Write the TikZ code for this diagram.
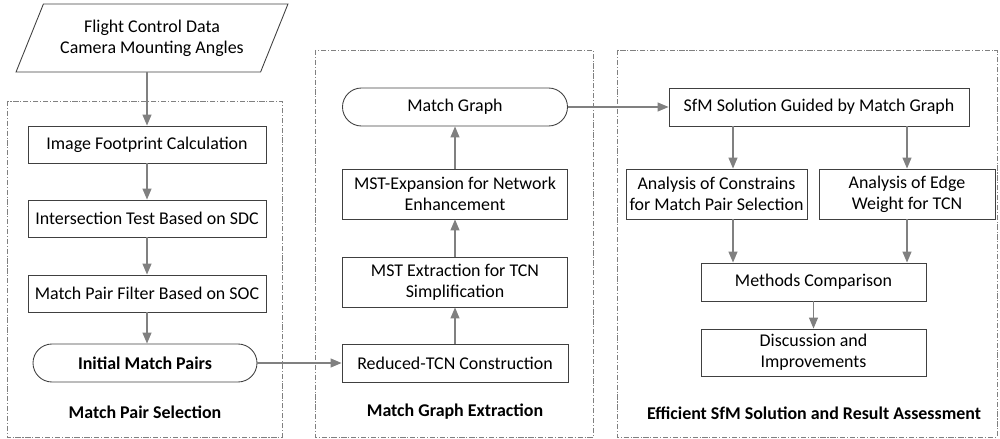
\documentclass[tikz,border=0pt]{standalone}
\usepackage{fontspec}
\setmainfont{Carlito}
\usepackage{xcolor}
\usepackage{tikz}
\usetikzlibrary{arrows.meta,positioning,shapes.geometric}
\definecolor{edgegray}{HTML}{404040}
\definecolor{arrowgray}{HTML}{808080}

\begin{document}
\begin{tikzpicture}[font=\fontsize{10.2}{12}\selectfont,
  box/.style={draw=edgegray, line width=0.5pt, align=center, inner sep=1pt, minimum height=0.76cm},
  term/.style={box, rounded corners=0.38cm},
  frame/.style={draw=arrowgray, line width=0.5pt, dash pattern=on 3pt off 1pt on 0.6pt off 1pt},
  flow/.style={draw=arrowgray, line width=0.7pt, -{Triangle[length=2.2mm,width=1.8mm]}},
  title/.style={font=\fontsize{10.2}{12}\selectfont\bfseries}]
\useasboundingbox (0,0) rectangle (20,-8.78);
% dashed stage frames
\draw[frame] (0.14,-2.02) rectangle (5.64,-8.74);
\draw[frame] (6.30,-1.00) rectangle (11.86,-8.74);
\draw[frame] (12.34,-1.00) rectangle (19.94,-8.74);
% input data
\node[draw=edgegray, line width=0.5pt, trapezium, trapezium left angle=63, trapezium right angle=117, trapezium stretches=true, minimum width=5.44cm, minimum height=1.36cm, align=center] (inp) at (3.04,-0.76) {Flight Control Data\\Camera Mounting Angles};
% match pair selection
\node[box, minimum width=4.76cm, minimum height=0.74cm] (fp) at (2.94,-2.89) {Image Footprint Calculation};
\node[box, minimum width=4.76cm, minimum height=0.74cm] (it) at (2.94,-4.37) {Intersection Test Based on SDC};
\node[box, minimum width=4.76cm, minimum height=0.74cm] (mf) at (2.94,-5.87) {Match Pair Filter Based on SOC};
\node[term, minimum width=4.48cm, font=\fontsize{10.2}{12}\selectfont\bfseries] (imp) at (2.90,-7.26) {Initial Match Pairs};
\node[title] (lab1) at (2.90,-8.24) {Match Pair Selection};
% match graph extraction
\node[box, minimum width=4.52cm] (rtc) at (9.10,-7.26) {Reduced-TCN Construction};
\node[box, minimum width=4.5cm, minimum height=1.0cm] (mse) at (9.10,-5.64) {MST Extraction for TCN\\Simplification};
\node[box, minimum width=4.5cm, minimum height=1.0cm] (mex) at (9.10,-3.88) {MST-Expansion for Network\\Enhancement};
\node[term, minimum width=4.5cm] (mg) at (9.10,-2.14) {Match Graph};
\node[title] (lab2) at (9.10,-8.24) {Match Graph Extraction};
% sfm solution and assessment
\node[box, minimum width=6.0cm] (sfm) at (16.38,-2.14) {SfM Solution Guided by Match Graph};
\node[box, minimum width=3.62cm, minimum height=1.0cm] (acs) at (14.33,-3.88) {Analysis of Constrains\\for Match Pair Selection};
\node[box, minimum width=3.52cm, minimum height=1.0cm] (aew) at (18.14,-3.88) {Analysis of Edge\\Weight for TCN};
\node[box, minimum width=4.5cm] (mc) at (16.27,-5.64) {Methods Comparison};
\node[box, minimum width=4.5cm, minimum height=0.94cm] (dis) at (16.27,-7.05) {Discussion and\\Improvements};
\node[title] (lab3) at (16.28,-8.26) {Efficient SfM Solution and Result Assessment};
% connectors
\draw[flow] (inp.south -| fp.north) -- (fp);
\draw[flow] (fp) -- (it); \draw[flow] (it) -- (mf); \draw[flow] (mf) -- (mf |- imp.north);
\draw[flow] (imp) -- (rtc);
\draw[flow] (rtc) -- (mse); \draw[flow] (mse) -- (mex); \draw[flow] (mex) -- (mg);
\draw[flow] (mg) -- (sfm);
\draw[flow] ([xshift=0.33cm]acs.north |- sfm.south) -- ([xshift=0.33cm]acs.north);
\draw[flow] (aew.north |- sfm.south) -- (aew);
\draw[flow] ([xshift=0.33cm]acs.south) -- ([xshift=0.33cm]acs.south |- mc.north);
\draw[flow] (aew) -- (aew.south |- mc.north);
\draw[flow] (mc) -- (dis);
\end{tikzpicture}
\end{document}
